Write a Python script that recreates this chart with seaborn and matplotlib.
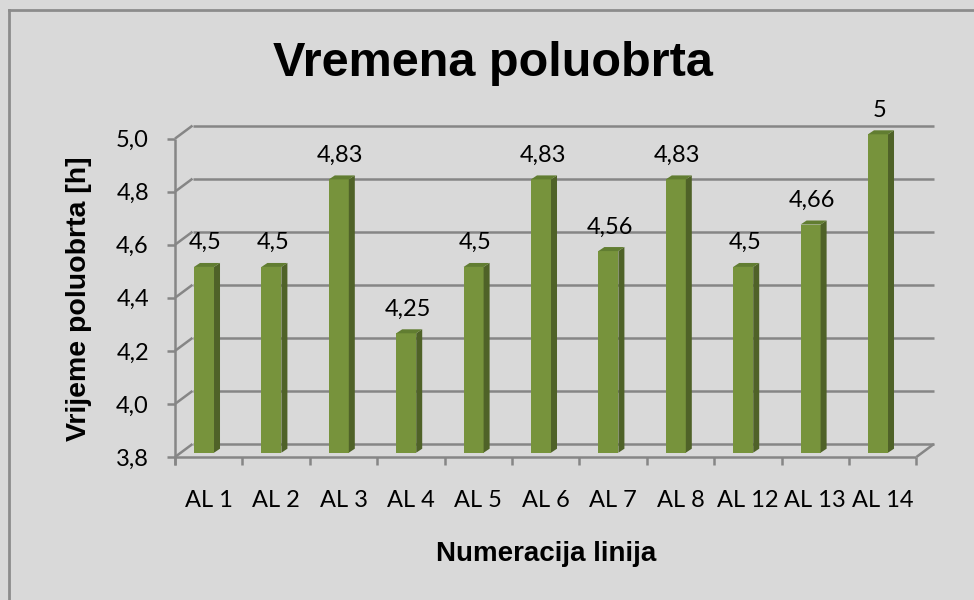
import matplotlib
matplotlib.use("Agg")
import numpy as np
import matplotlib.pyplot as plt
import matplotlib.transforms as mtransforms
from matplotlib.patches import Polygon
from matplotlib.lines import Line2D
import seaborn as sns

# data
categories = ['AL 1', 'AL 2', 'AL 3', 'AL 4', 'AL 5', 'AL 6', 'AL 7', 'AL 8', 'AL 12', 'AL 13', 'AL 14']
values = [4.5, 4.5, 4.83, 4.25, 4.5, 4.83, 4.56, 4.83, 4.5, 4.66, 5]
yticks = [3.8, 4.0, 4.2, 4.4, 4.6, 4.8, 5.0]
ytick_labels = ['3,8', '4,0', '4,2', '4,4', '4,6', '4,8', '5,0']
title = 'Vremena poluobrta'
xlabel = 'Numeracija linija'
ylabel = 'Vrijeme poluobrta [h]'

bg = '#D9D9D9'
grid_c = '#868686'
front_c = '#77933C'
side_c = '#4F6228'
top_c = '#617D31'
num_font = 'Lato'
lab_font = 'Liberation Sans'
num_size = 17

W, H = 974, 600
fig = plt.figure(figsize=(W / 100, H / 100), dpi=100, facecolor=bg)
ax = fig.add_axes([170.3 / W, 1 - 452.7 / H, 741.4 / W, 318.4 / H])
ax.set_facecolor('none')

sns.barplot(x=categories, y=values, color=front_c, saturation=1, width=0.297,
            linewidth=0, ax=ax, zorder=3)
ax.set_xlim(-0.5, len(categories) - 0.5)
ax.set_ylim(yticks[0], yticks[-1])
ax.axis('off')

ident = mtransforms.IdentityTransform()


def shifted(dx, dy):
    return mtransforms.offset_copy(ax.transData, fig=fig, x=dx, y=dy, units='dots')


front = shifted(4.7, -4.3)
back = shifted(22.2, 8.7)
x_lo, x_hi = -0.5, len(categories) - 0.5
y0 = yticks[0]


def seg(p1, p2, z=1):
    ax.add_line(Line2D([p1[0], p2[0]], [p1[1], p2[1]], transform=ident, color=grid_c,
                       lw=1.8, clip_on=False, zorder=z, solid_capstyle='butt'))


# back wall gridlines and left wall edges
for v in yticks:
    seg(back.transform((x_lo, v)), back.transform((x_hi, v)))
    seg(front.transform((x_lo, v)), back.transform((x_lo, v)))
    # y tick marks on front axis
    p = front.transform((x_lo, v))
    seg((p[0] - 8, p[1]), p, z=4)
# floor right edge
seg(front.transform((x_hi, y0)), back.transform((x_hi, y0)))
# front axes
pb = front.transform((x_lo, y0))
pt = front.transform((x_lo, yticks[-1]))
seg((pb[0], pb[1] - 8), pt, z=4)
seg(pb, front.transform((x_hi, y0)), z=4)
for k in range(len(categories) + 1):
    p = front.transform((x_lo + k, y0))
    seg(p, (p[0], p[1] - 8), z=4)

# 3d sides and tops of the bars
depth = np.array([6.0, 4.0])
bars = list(ax.patches)
for b in bars:
    x0, w, h = b.get_x(), b.get_width(), b.get_height()
    br = ax.transData.transform((x0 + w, y0))
    tr = ax.transData.transform((x0 + w, h))
    tl = ax.transData.transform((x0, h))
    ax.add_patch(Polygon([br, tr, tr + depth, br + depth], closed=True, transform=ident,
                         facecolor=side_c, edgecolor='none', clip_on=False, zorder=3))
    ax.add_patch(Polygon([tl, tr, tr + depth, tl + depth], closed=True, transform=ident,
                         facecolor=top_c, edgecolor='none', clip_on=False, zorder=3))

# value labels
for i, v in enumerate(values):
    ax.text(i, v, f'{v:g}'.replace('.', ','), transform=shifted(1.5, 17.7),
            ha='center', va='baseline', fontsize=num_size, family=num_font, zorder=5)

# tick labels
for v, lab in zip(yticks, ytick_labels):
    ax.text(x_lo, v, lab, transform=shifted(4.7 - 26, -4.3 - 2), ha='right', va='center',
            fontsize=num_size, family=num_font)
for i, cat in enumerate(categories):
    ax.text(i, y0, cat, transform=shifted(4.7, -4.3 - 50), ha='center', va='baseline',
            fontsize=num_size, family=num_font)

fig.text(492.5 / W, 1 - 76 / H, title, ha='center', va='baseline', fontsize=35,
         fontweight='bold', family=lab_font)
fig.text(546 / W, 1 - 561 / H, xlabel, ha='center', va='baseline', fontsize=20,
         fontweight='bold', family=lab_font)
fig.text(79 / W, 1 - 299 / H, ylabel, ha='center', va='center', rotation=90, fontsize=20.5,
         fontweight='bold', family=lab_font)

# chart area border (cut off at right and bottom)
fig.add_artist(Line2D([9 / W, 1], [1 - 10 / H, 1 - 10 / H], transform=fig.transFigure,
                      color='#8C8C8C', lw=2))
fig.add_artist(Line2D([9 / W, 9 / W], [0, 1 - 10 / H], transform=fig.transFigure,
                      color='#8C8C8C', lw=2))

fig.savefig('out.png', dpi=100, facecolor=bg)
